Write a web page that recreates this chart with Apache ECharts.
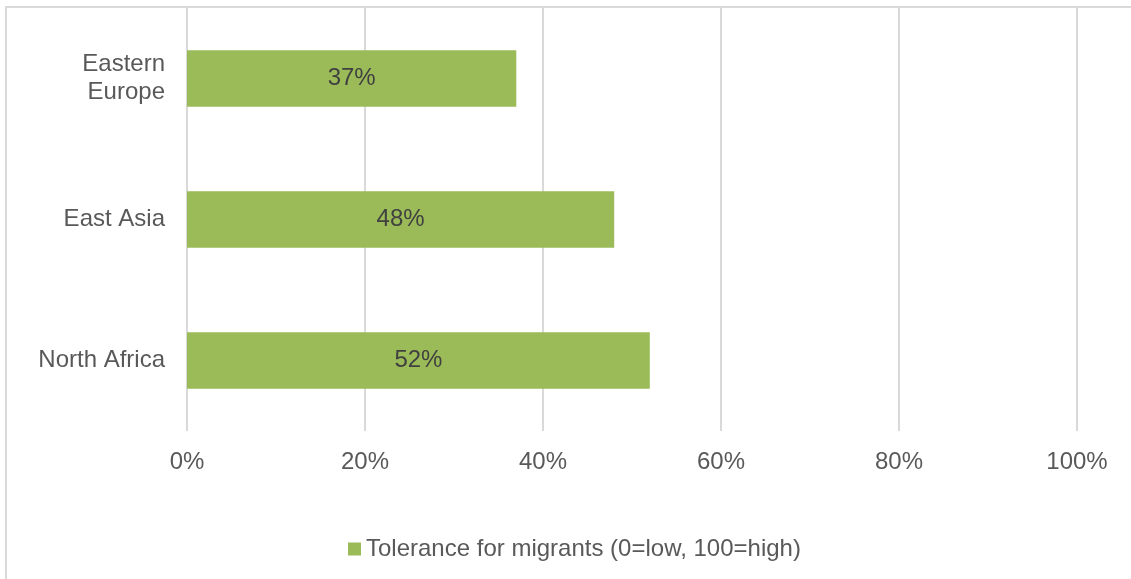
<!DOCTYPE html>
<html>
<head>
<meta charset="utf-8">
<script src="https://cdn.jsdelivr.net/npm/echarts@6/dist/echarts.min.js"></script>
<style>
html,body{margin:0;padding:0;background:#fff;}
#chart{width:1131px;height:579px;}
</style>
</head>
<body>
<div id="chart"></div>
<script>
const categories = ['North Africa', 'East Asia', 'Eastern\nEurope'];
const values = [52, 48, 37];
const seriesName = 'Tolerance for migrants (0=low, 100=high)';
const xTicks = [0, 20, 40, 60, 80, 100];

const chart = echarts.init(document.getElementById('chart'), null, {renderer: 'canvas'});
const font = 'Liberation Sans, Arial, sans-serif';
chart.setOption({
  animation: false,
  textStyle: {fontFamily: font},
  graphic: [{
    type: 'rect', silent: true, z: -1,
    shape: {x: 6, y: 7, width: 1140, height: 600},
    style: {fill: 'none', stroke: '#d9d9d9', lineWidth: 2}
  }],
  grid: {left: 187, right: 54, top: 8, bottom: 148, containLabel: false},
  legend: {
    bottom: 13, left: 343,
    itemWidth: 13, itemHeight: 13, itemGap: 10,
    icon: 'rect',
    textStyle: {fontSize: 24, color: '#595959', fontFamily: font},
    data: [seriesName]
  },
  xAxis: {
    type: 'value', min: 0, max: 100, interval: 20,
    axisLine: {show: false}, axisTick: {show: false},
    splitLine: {show: true, lineStyle: {color: '#d9d9d9', width: 2}},
    axisLabel: {
      formatter: v => xTicks.includes(v) ? v + '%' : '',
      fontSize: 24, color: '#595959', margin: 19, fontFamily: font
    }
  },
  yAxis: {
    type: 'category', data: categories,
    axisLine: {show: false}, axisTick: {show: false},
    axisLabel: {fontSize: 24, color: '#595959', margin: 22, lineHeight: 28, fontFamily: font}
  },
  series: [{
    name: seriesName, type: 'bar', data: values,
    barCategoryGap: '60%',
    itemStyle: {color: '#9bbb59'},
    label: {
      show: true, position: 'inside', formatter: p => p.value + '%',
      fontSize: 24, color: '#404040', fontFamily: font
    }
  }]
});
</script>
</body>
</html>
